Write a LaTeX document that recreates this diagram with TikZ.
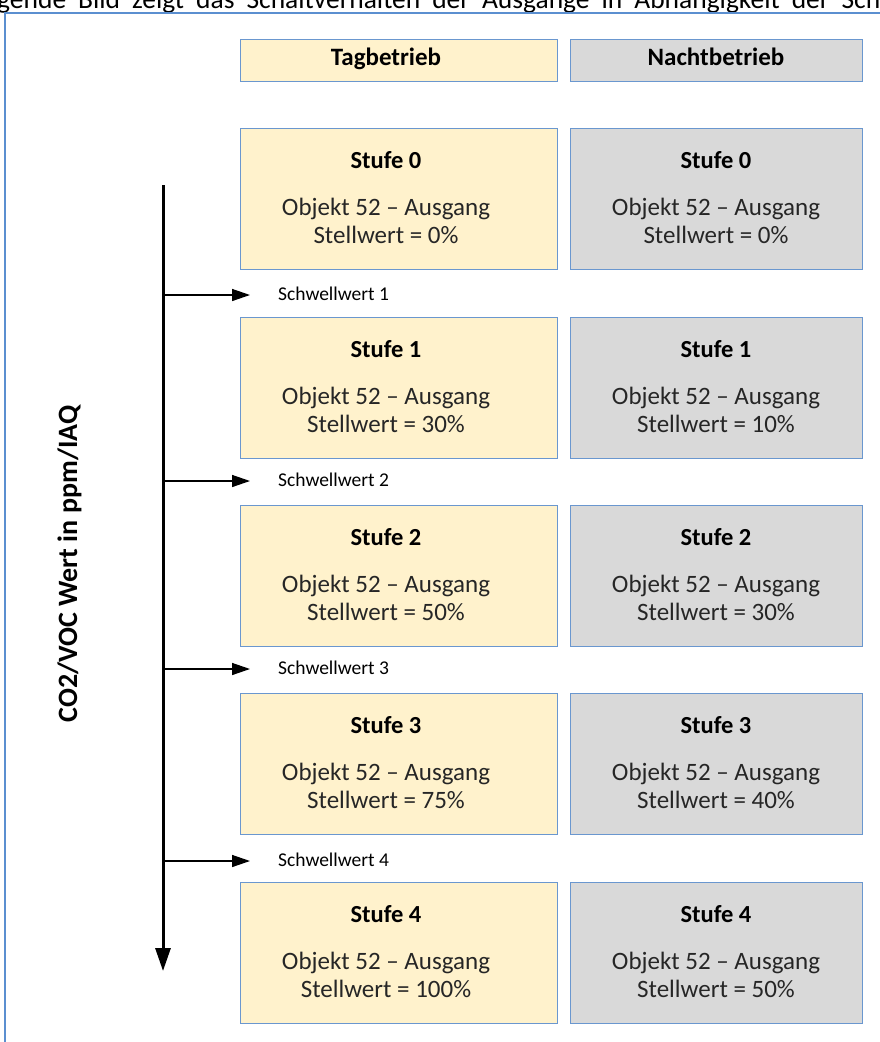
\documentclass[tikz,border=0pt]{standalone}
\usepackage{fontspec}
\setmainfont{Carlito}
\usetikzlibrary{arrows.meta}
\definecolor{tagfill}{HTML}{FFF2CC}
\definecolor{nachtfill}{HTML}{D9D9D9}
\definecolor{boxline}{HTML}{6A97CF}
\definecolor{frameline}{HTML}{5B8FD0}
\definecolor{txt}{HTML}{262626}
\begin{document}
\begin{tikzpicture}[x=1pt,y=-1pt,
  tagbox/.style={draw=boxline,line width=1pt,fill=tagfill,minimum width=317pt,inner sep=0pt},
  nachtbox/.style={draw=boxline,line width=1pt,fill=nachtfill,minimum width=292pt,inner sep=0pt},
  stufetxt/.style={font=\fontsize{24.5}{28}\selectfont\bfseries,anchor=base,inner sep=0pt,text=black},
  bodytxt/.style={font=\fontsize{25}{29}\selectfont,anchor=base,inner sep=0pt,text=txt},
  headtxt/.style={font=\fontsize{25}{29}\selectfont\bfseries,anchor=base,inner sep=0pt,text=black},
  schwtxt/.style={font=\fontsize{19.5}{23}\selectfont,anchor=base west,inner sep=0pt,text=black},
  branch/.style={line width=1.4pt,-{Triangle[length=18pt,width=12pt]}},
  mainarrow/.style={line width=3pt,-{Triangle[length=23pt,width=15pt]}}
]
\useasboundingbox (0,0) rectangle (880,1042);
\clip (0,0) rectangle (880,1042);
% cut-off caption at the top (justified text, wider word spaces)
\node[font=\fontsize{27.5}{32}\selectfont,anchor=base west,inner sep=0pt] (cap) at (-3,8) {\spaceskip=12pt gende Bild zeigt das Schaltverhalten der Ausgänge in Abhängigkeit der Schwellwerte};
% outer frame
\draw[frameline,line width=1.6pt] (5,1050) -- (5,13) -- (890,13);
% headers
\node[tagbox,minimum height=42pt] (htag) at (398.5,60) {};
\node[nachtbox,minimum height=42pt] (hnacht) at (716,60) {};
\node[headtxt] (htagt) at (386,65) {Tagbetrieb};
\node[headtxt] (hnachtt) at (716,65) {Nachtbetrieb};
% boxes
\foreach \i/\y/\tv/\nv in {0/128/0/0,1/317/30/10,2/505/50/30,3/693/75/40,4/882/100/50}{
  \node[tagbox,minimum height=141pt,anchor=north] (t\i) at (398.5,\y) {};
  \node[nachtbox,minimum height=141pt,anchor=north] (n\i) at (716,\y) {};
  \node[stufetxt] (ts\i) at (386,\y+40) {Stufe \i};
  \node[bodytxt] (to\i) at (386,\y+87) {Objekt 52 – Ausgang};
  \node[bodytxt] (tw\i) at (386,\y+115) {Stellwert = \tv\%};
  \node[stufetxt] (ns\i) at (716,\y+40) {Stufe \i};
  \node[bodytxt] (no\i) at (716,\y+87) {Objekt 52 – Ausgang};
  \node[bodytxt] (nw\i) at (716,\y+115) {Stellwert = \nv\%};
}
% main axis
\coordinate (atop) at (163,185);
\coordinate (abot) at (163,971);
\draw[mainarrow] (atop) -- (abot);
\node[font=\fontsize{28}{32}\selectfont\bfseries,rotate=90,anchor=base,inner sep=0pt] (axlabel) at (77,564) {CO2/VOC Wert in ppm/IAQ};
% thresholds
\foreach \k/\y in {1/295,2/481,3/669,4/861}{
  \coordinate (s\k) at (163,\y);
  \coordinate (e\k) at (250,\y);
  \draw[branch] (s\k) -- (e\k);
  \node[schwtxt] (sl\k) at (278,\y+5) {Schwellwert \k};
}
\end{tikzpicture}
\end{document}
